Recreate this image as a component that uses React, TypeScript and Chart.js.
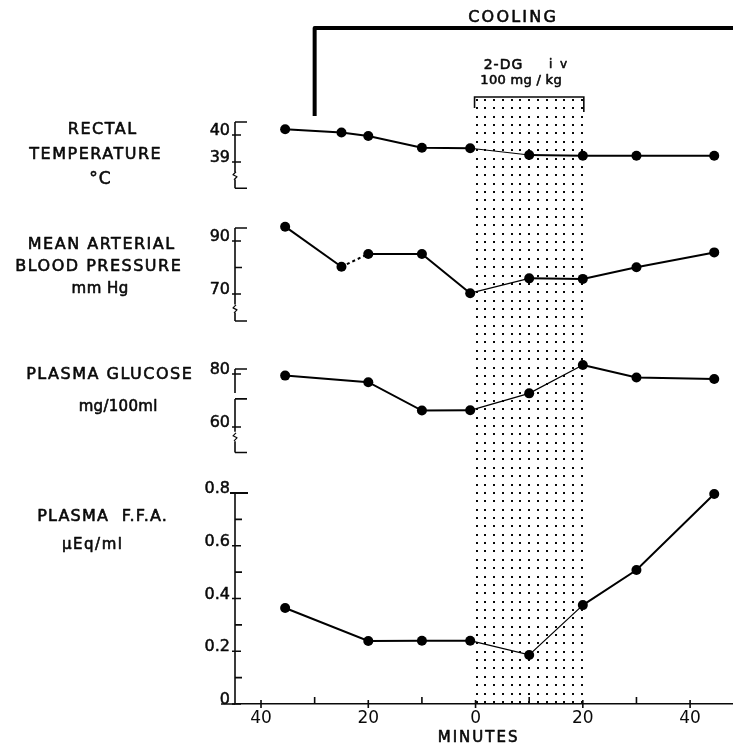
import { useEffect, useRef } from 'react';
import { Chart, registerables } from 'chart.js';

Chart.register(...registerables);

// ---------------- data ----------------
const tempMinutes = [-35.5, -25, -20, -10, -1, 10, 20, 30, 44.5];
const tempValues = [40.21, 40.09, 39.96, 39.53, 39.51, 39.26, 39.23, 39.23, 39.23];

const bpMinutes = [-35.5, -25, -20, -10, -1, 10, 20, 30, 44.5];
const bpValues = [95.4, 80.3, 85.1, 85.1, 70.3, 75.9, 75.7, 80.1, 85.7];

const glucoseMinutes = [-35.5, -20, -10, -1, 10, 20, 30, 44.5];
const glucoseValues = [79.4, 76.9, 66.2, 66.3, 72.7, 83.4, 78.7, 78.1];

const ffaMinutes = [-35.5, -20, -10, -1, 10, 20, 30, 44.5];
const ffaValues = [0.364, 0.239, 0.24, 0.24, 0.186, 0.375, 0.508, 0.796];

const xTicks = [-40, -30, -20, -10, 0, 10, 20, 30, 40];
const xTickLabels = ['40', '', '20', '', '0', '', '20', '', '40'];

const tempTicks = [40, 39];
const tempTickLabels = ['40', '39'];
const bpTicks = [90, 80, 70];
const bpTickLabels = ['90', '', '70'];
const glucoseTicks = [80, 60];
const glucoseTickLabels = ['80', '60'];
const ffaTicks = [0.8, 0.7, 0.6, 0.5, 0.4, 0.3, 0.2, 0.1, 0];
const ffaTickLabels = ['0.8', '', '0.6', '', '0.4', '', '0.2', '', '0'];

const coolingStart = -30;
const infusionStart = 0;
const infusionEnd = 20;

// ---------------- layout helpers ----------------
const AREA_TOP = 0;
const AREA_BOTTOM = 704;
function rangeFor(v1: number, p1: number, v2: number, p2: number) {
  const s = (v1 - v2) / (p2 - p1);
  return { min: v1 - (AREA_BOTTOM - p1) * s, max: v1 + (p1 - AREA_TOP) * s };
}

const FONT = 'DejaVu Sans';
const INK = '#0a0a0a';

type AxisDecor = {
  id: string;
  segments: [number, number][];
  caps: number[];
  breaks: number[];
  ticks: number[];
  labels: string[];
};

const axisDecor: AxisDecor[] = [
  { id: 'yT', segments: [[40.48, 38.62], [38.35, 38.03]], caps: [40.48, 38.03], breaks: [38.49], ticks: tempTicks, labels: tempTickLabels },
  { id: 'yB', segments: [[94.9, 66.0], [63.0, 59.8]], caps: [94.9, 59.8], breaks: [64.4], ticks: bpTicks, labels: bpTickLabels },
  { id: 'yG', segments: [[81.9, 72.8], [70.6, 58.2], [54.6, 50.4]], caps: [81.9, 70.6, 50.4], breaks: [56.3], ticks: glucoseTicks, labels: glucoseTickLabels },
  { id: 'yF', segments: [[0.8, 0]], caps: [], breaks: [], ticks: ffaTicks, labels: ffaTickLabels },
];

function text(ctx: CanvasRenderingContext2D, s: string, x: number, y: number, size: number, spacing = 0, align: CanvasTextAlign = 'center', baseline: CanvasTextBaseline = 'middle', weight = 0.6) {
  ctx.font = `${size}px "${FONT}"`;
  (ctx as any).letterSpacing = `${spacing}px`;
  ctx.textAlign = align;
  ctx.textBaseline = baseline;
  ctx.fillStyle = INK;
  ctx.strokeStyle = INK;
  ctx.lineWidth = weight;
  ctx.lineJoin = 'round';
  const xx = x + (align === 'center' ? spacing / 2 : 0);
  ctx.fillText(s, xx, y);
  if (weight > 0) ctx.strokeText(s, xx, y);
  (ctx as any).letterSpacing = '0px';
}

const decorPlugin = {
  id: 'decor',
  beforeDatasetsDraw(chart: any) {
    const { ctx, chartArea, scales } = chart;
    const xs = scales.x;
    ctx.save();

    // dotted infusion region
    const x0 = xs.getPixelForValue(infusionStart);
    const x1 = xs.getPixelForValue(infusionEnd);
    ctx.fillStyle = INK;
    const cols = 13;
    for (let c = 0; c < cols; c++) {
      const px = x0 + 1 + (c * (x1 - x0 - 2)) / (cols - 1);
      for (let py = 100; py <= 703; py += 8.36) {
        ctx.fillRect(Math.round(px) - 1, Math.round(py) - 1, 2, 2);
      }
    }
    // bracket over the region
    ctx.strokeStyle = INK;
    ctx.lineWidth = 1.6;
    ctx.beginPath();
    ctx.moveTo(x0 - 1, 108);
    ctx.lineTo(x0 - 1, 97);
    ctx.lineTo(x1 + 1, 97);
    ctx.lineTo(x1 + 1, 112);
    ctx.stroke();
    text(ctx, '2-DG', 503, 65, 14, 1);
    text(ctx, 'i v', 558, 65, 12, 2);
    text(ctx, '100 mg / kg', 521, 81, 13, 0.3);

    // cooling bracket
    const xc = xs.getPixelForValue(coolingStart);
    ctx.lineWidth = 4;
    ctx.strokeStyle = '#000';
    ctx.beginPath();
    ctx.moveTo(xc, 116);
    ctx.lineTo(xc, 28);
    ctx.lineTo(chart.width + 2, 28);
    ctx.stroke();
    text(ctx, 'COOLING', 512, 18, 16, 2.2);

    // left panel titles
    text(ctx, 'RECTAL', 102, 130, 16, 1.5);
    text(ctx, 'TEMPERATURE', 95, 155, 16, 1.5);
    text(ctx, '°C', 100, 180, 17, 1);
    text(ctx, 'MEAN ARTERIAL', 101, 245, 16, 1.5);
    text(ctx, 'BLOOD PRESSURE', 98, 267, 16, 1.5);
    text(ctx, 'mm Hg', 100, 289, 15, 0.5);
    text(ctx, 'PLASMA GLUCOSE', 109, 375, 16, 1.5);
    text(ctx, 'mg/100ml', 118, 407, 15, 0.3);
    text(ctx, 'PLASMA  F.F.A.', 102, 517, 16, 1.2);
    text(ctx, 'μEq/ml', 92, 545, 15, 1.5);

    // y axes
    const ax = chartArea.left;
    for (const d of axisDecor) {
      const sc = scales[d.id];
      const py = (v: number) => sc.getPixelForValue(v);
      ctx.strokeStyle = INK;
      ctx.lineWidth = 1.6;
      ctx.beginPath();
      for (const [a, b] of d.segments) {
        ctx.moveTo(ax, py(a));
        ctx.lineTo(ax, py(b));
      }
      for (const c of d.caps) {
        ctx.moveTo(ax, py(c));
        ctx.lineTo(ax + 12, py(c));
      }
      d.ticks.forEach((t, i) => {
        const p = py(t);
        if (d.labels[i]) {
          ctx.moveTo(ax - 3, p);
          ctx.lineTo(ax + 6, p);
        } else {
          ctx.moveTo(ax, p);
          ctx.lineTo(ax + 7, p);
        }
      });
      ctx.stroke();
      ctx.lineWidth = 1.2;
      for (const b of d.breaks) {
        const p = py(b);
        ctx.beginPath();
        ctx.moveTo(ax + 1, p - 4);
        ctx.lineTo(ax - 2, p - 1);
        ctx.lineTo(ax + 2, p + 1);
        ctx.lineTo(ax - 1, p + 4);
        ctx.stroke();
      }
      d.ticks.forEach((t, i) => {
        if (d.labels[i]) text(ctx, d.labels[i], ax - 5, py(t), 16, 0, 'right', 'alphabetic', 0.5);
      });
    }
    // FFA top cap extends left a bit
    const yF = scales.yF;
    ctx.strokeStyle = INK;
    ctx.lineWidth = 2;
    ctx.beginPath();
    ctx.moveTo(ax - 5, yF.getPixelForValue(0.8));
    ctx.lineTo(ax + 13, yF.getPixelForValue(0.8));
    ctx.stroke();

    // x axis: left extension and tick marks
    const yb = chartArea.bottom;
    ctx.lineWidth = 1.6;
    ctx.beginPath();
    ctx.moveTo(ax - 14, yb);
    ctx.lineTo(ax, yb);
    xTicks.forEach((t, i) => {
      const p = xs.getPixelForValue(t);
      if (xTickLabels[i]) {
        ctx.moveTo(p, yb - 4);
        ctx.lineTo(p, yb + 4);
      } else {
        ctx.moveTo(p, yb - 7);
        ctx.lineTo(p, yb);
      }
    });
    ctx.stroke();
    text(ctx, 'MINUTES', xs.getPixelForValue(0) + 2, 738, 15, 2);

    ctx.restore();
  },
};

function segStyle(thinFrom: number[], dashFrom: number[] = []) {
  return {
    borderWidth: (c: any) => (thinFrom.includes(c.p0.parsed.x) ? 1.2 : undefined),
    borderDash: (c: any) => (dashFrom.includes(c.p0.parsed.x) ? [3, 3] : undefined),
  };
}

const toPts = (xs: number[], ys: number[]) => xs.map((x, i) => ({ x, y: ys[i] }));

export default function App() {
  const ref = useRef<HTMLCanvasElement>(null);

  useEffect(() => {
    const canvas = ref.current;
    if (!canvas) return;
    const common = {
      borderColor: '#000',
      backgroundColor: '#000',
      borderWidth: 2,
      pointRadius: 5,
      pointBorderWidth: 0,
      pointBackgroundColor: '#000',
      tension: 0,
      clip: false as any,
    };
    const chart = new Chart(canvas, {
      type: 'line',
      data: {
        datasets: [
          { label: 'Rectal temperature', data: toPts(tempMinutes, tempValues), yAxisID: 'yT', ...common, segment: segStyle([-1]) },
          { label: 'Mean arterial blood pressure', data: toPts(bpMinutes, bpValues), yAxisID: 'yB', ...common, segment: segStyle([-1], [-25]) },
          { label: 'Plasma glucose', data: toPts(glucoseMinutes, glucoseValues), yAxisID: 'yG', ...common, segment: segStyle([-1, 10]) },
          { label: 'Plasma FFA', data: toPts(ffaMinutes, ffaValues), yAxisID: 'yF', ...common, segment: segStyle([-1, 10]) },
        ] as any,
      },
      options: {
        responsive: false,
        animation: false,
        events: [],
        layout: { padding: { left: 235, right: 0, top: AREA_TOP, bottom: 18 }, autoPadding: false } as any,
        plugins: { legend: { display: false }, tooltip: { enabled: false } },
        scales: {
          x: {
            type: 'linear',
            min: -44.85,
            max: 48,
            afterBuildTicks: (s: any) => {
              s.ticks = xTicks.map((v) => ({ value: v }));
            },
            ticks: {
              autoSkip: false,
              maxRotation: 0,
              padding: 2,
              color: INK,
              font: { family: FONT, size: 17, lineHeight: 1 },
              callback: (_v: any, i: number) => xTickLabels[i],
            },
            grid: { display: true, drawOnChartArea: false, drawTicks: true, tickLength: 4, tickColor: 'rgba(0,0,0,0)' },
            border: { display: true, color: INK, width: 1.6 },
          },
          yT: { type: 'linear', display: false, ...rangeFor(40, 135, 39, 162) },
          yB: { type: 'linear', display: false, ...rangeFor(90, 241, 70, 294) },
          yG: { type: 'linear', display: false, ...rangeFor(80, 374, 60, 427) },
          yF: { type: 'linear', display: false, ...rangeFor(0.8, 493, 0, 704) },
        } as any,
      },
      plugins: [decorPlugin],
    });
    return () => chart.destroy();
  }, []);

  return (
    <div style={{ position: 'absolute', left: 0, top: 0, width: 733, height: 747, background: '#fff' }}>
      <canvas ref={ref} width={733} height={747} style={{ display: 'block' }} />
    </div>
  );
}
